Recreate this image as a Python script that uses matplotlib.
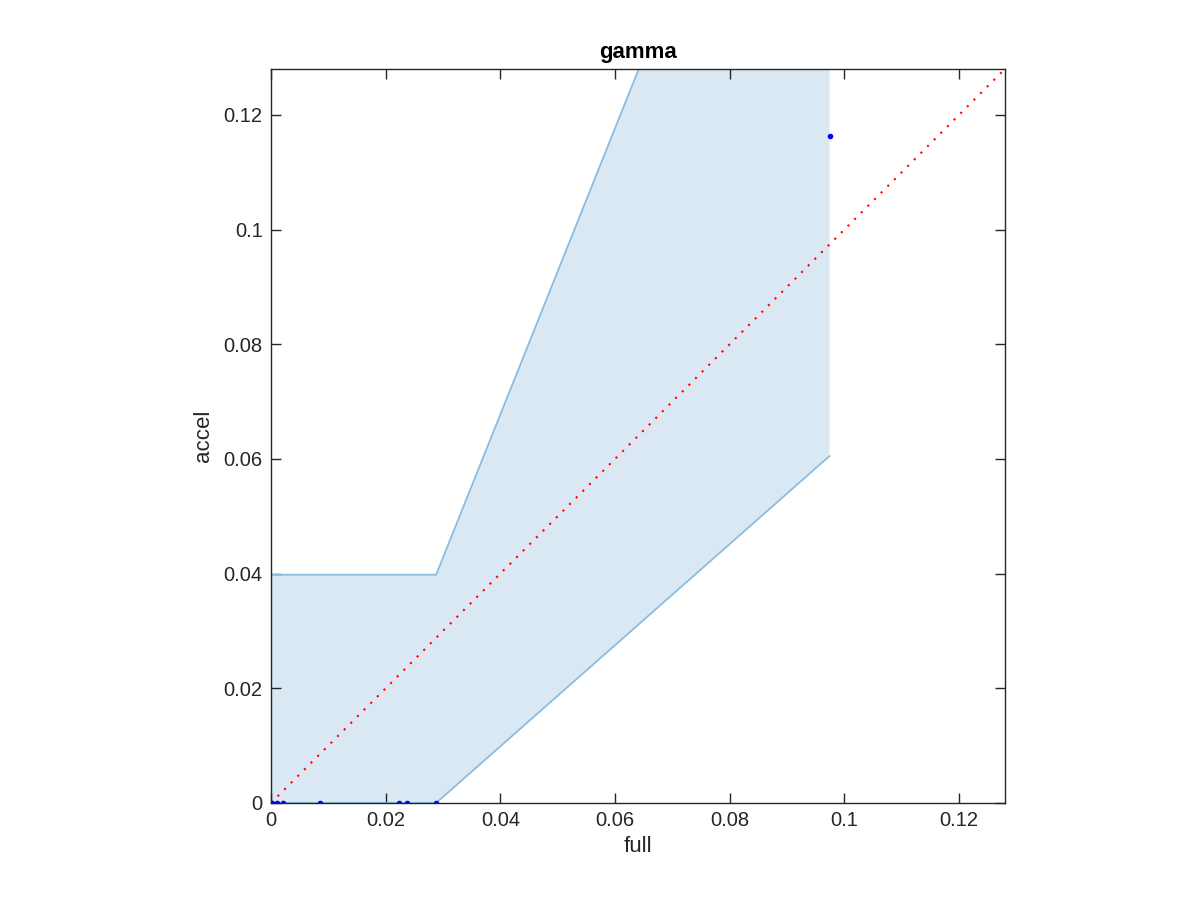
import numpy as np
import matplotlib.pyplot as plt

plt.rcParams['font.family'] = ['Liberation Sans', 'DejaVu Sans']

# data
full = [0.0, 0.0001, 0.001, 0.0021, 0.0086, 0.0224, 0.0237, 0.0288, 0.0974]
accel = [0.0, 0.0, 0.0, 0.0, 0.0, 0.0, 0.0, 0.0, 0.1163]
band_x = [0.0, 0.0288, 0.0974]
band_lo = [0.0, 0.0, 0.0605]
band_hi = [0.0398, 0.0398, 0.211]
lim = 0.128
ticks = [0, 0.02, 0.04, 0.06, 0.08, 0.1, 0.12]
tick_labels = ['0', '0.02', '0.04', '0.06', '0.08', '0.1', '0.12']

fig = plt.figure(figsize=(12, 9), dpi=100)
ax = fig.add_axes([0.2258, 0.1078, 0.6117, 0.8156])

edge = '#8bbde0'
ax.fill_between(band_x, band_lo, band_hi, color='#d9e8f3', linewidth=0, zorder=1)
ax.plot(band_x, band_lo, color=edge, lw=1.3, zorder=2)
ax.plot(band_x, band_hi, color=edge, lw=1.3, zorder=2)
ax.plot([0, lim], [0, lim], color='red', ls=(0, (1, 3.5)), lw=1.5, zorder=3)
ax.plot(full, accel, '.', color='blue', ms=6, zorder=4)

ax.set_xlim(0, lim)
ax.set_ylim(0, lim)
ax.set_xticks(ticks)
ax.set_xticklabels(tick_labels)
ax.set_yticks(ticks)
ax.set_yticklabels(tick_labels)
ax.tick_params(direction='in', length=7, width=1, colors='#262626',
               labelsize=14.5, top=True, right=True)
ax.tick_params(axis='x', pad=6)
ax.tick_params(axis='y', pad=6)
for s in ax.spines.values():
    s.set_color('#262626')
    s.set_linewidth(1)
    s.set_zorder(5)

ax.set_title('gamma', fontsize=16, fontweight='bold', pad=8)
ax.set_xlabel('full', fontsize=16, color='#262626', labelpad=4)
ax.set_ylabel('accel', fontsize=16, color='#262626', labelpad=7)

fig.savefig('out.png')
